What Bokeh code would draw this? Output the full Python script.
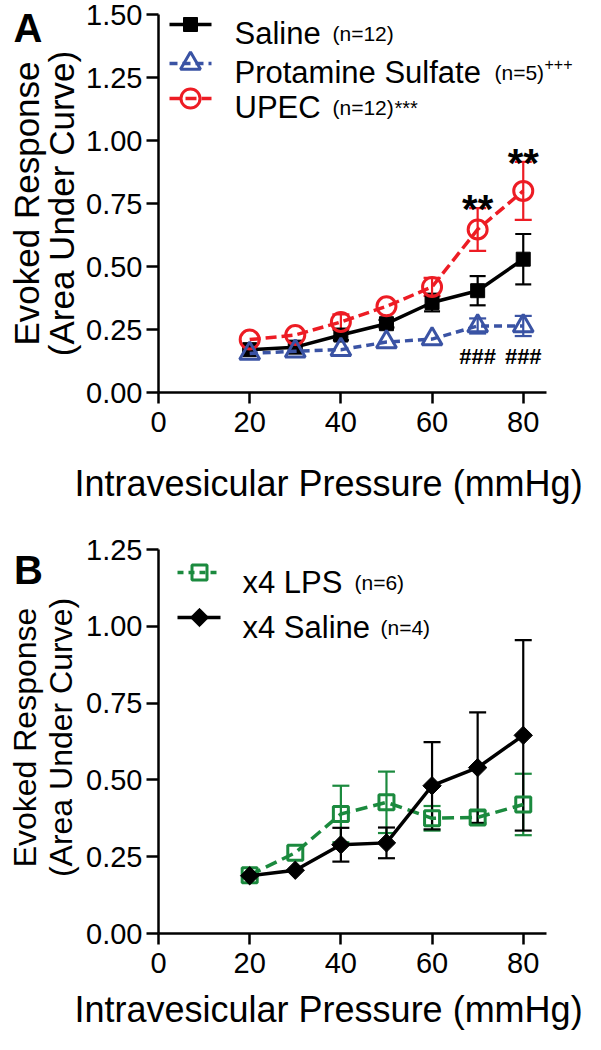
import math
from bokeh.plotting import figure
from bokeh.models import (Range1d, FixedTicker, Label, Whisker, TeeHead,
                          ColumnDataSource, NumeralTickFormatter)
from bokeh.layouts import column
from bokeh.embed import file_html
from bokeh.resources import INLINE
from bokeh.core.properties import value

# ---------------- data ----------------
pressure = [20, 30, 40, 50, 60, 70, 80]

a_saline = [0.170, 0.180, 0.228, 0.273, 0.357, 0.404, 0.529]
a_saline_sem = [0.0, 0.0, 0.020, 0.015, 0.035, 0.058, 0.100]
a_protamine = [0.155, 0.164, 0.170, 0.200, 0.212, 0.264, 0.264]
a_protamine_sem = [0.0, 0.0, 0.0, 0.0, 0.0, 0.030, 0.040]
a_upec = [0.210, 0.228, 0.280, 0.342, 0.419, 0.647, 0.800]
a_upec_sem = [0.0, 0.0, 0.030, 0.0, 0.036, 0.085, 0.115]

b_lps = [0.190, 0.263, 0.389, 0.427, 0.375, 0.378, 0.420]
b_lps_sem = [0.0, 0.0, 0.092, 0.100, 0.040, 0.020, 0.100]
b_saline = [0.188, 0.206, 0.289, 0.295, 0.481, 0.540, 0.645]
b_saline_sem = [0.0, 0.0, 0.055, 0.050, 0.142, 0.180, 0.310]

x_ticks = [0, 20, 40, 60, 80]
a_y_ticks = [0, 0.25, 0.5, 0.75, 1.0, 1.25, 1.5]
b_y_ticks = [0, 0.25, 0.5, 0.75, 1.0, 1.25]
x_axis_end = 85.1

star_x = [70, 80]   # ** UPEC vs saline
hash_x = [70, 80]   # ### protamine vs UPEC

# ---------------- styling / geometry (page pixels) ----------------
FONT = "Liberation Sans"
RED = "#ED1C24"
BLUE = "#3A53A4"
GREEN = "#1B8A3E"
BLACK = "#000000"

PAGE_L, PAGE_R = 8, 590          # canvas extent
X0_PX, XEND_PX = 166, 554        # x=0 and x=x_axis_end
XS = (XEND_PX - X0_PX) / x_axis_end


def make_fig(page_top, page_bot, y0_px, ytop_px, y_top, yticks):
    ys = (y0_px - ytop_px) / y_top
    p = figure(width=PAGE_R - PAGE_L, height=page_bot - page_top,
               output_backend="svg", toolbar_location=None,
               x_range=Range1d((PAGE_L - X0_PX) / XS, (PAGE_R - X0_PX) / XS),
               y_range=Range1d(-(page_bot - y0_px) / ys, (y0_px - page_top) / ys),
               min_border=0)
    p.outline_line_color = None
    p.grid.visible = False
    for ax in (p.xaxis[0], p.yaxis[0]):
        ax.fixed_location = 0
        ax.axis_line_width = 2.5
        ax.axis_line_color = BLACK
        ax.major_tick_line_width = 2.5
        ax.major_tick_line_color = BLACK
        ax.major_tick_in = 0
        ax.minor_tick_line_color = None
        ax.major_label_text_font = FONT
        ax.major_label_text_font_size = "29px"
        ax.major_label_text_color = BLACK
    p.xaxis.bounds = (0, x_axis_end)
    p.yaxis.bounds = (0, y_top)
    p.xaxis.ticker = FixedTicker(ticks=x_ticks)
    p.yaxis.ticker = FixedTicker(ticks=yticks)
    p.yaxis.formatter = NumeralTickFormatter(format="0.00")
    p.xaxis.major_tick_out = 11
    p.yaxis.major_tick_out = 12
    p.xaxis.major_label_standoff = 8
    p.yaxis.major_label_standoff = 4

    def gx(px):
        return (px - X0_PX) / XS

    def gy(py):
        return (y0_px - py) / ys
    return p, gx, gy


def add_errors(p, y, err, color, head=17):
    xs = [x for x, e in zip(pressure, err) if e > 0]
    up = [v + e for v, e in zip(y, err) if e > 0]
    lo = [v - e for v, e in zip(y, err) if e > 0]
    src = ColumnDataSource(dict(x=xs, upper=up, lower=lo))
    w = Whisker(source=src, base="x", upper="upper", lower="lower",
                line_color=color, line_width=2.2,
                upper_head=TeeHead(size=head, line_color=color, line_width=2.2),
                lower_head=TeeHead(size=head, line_color=color, line_width=2.2))
    p.add_layout(w)


def lab(p, x, y, text, size, **kw):
    p.add_layout(Label(x=x, y=y, text=text, text_font=FONT,
                       text_font_size=size, text_color=kw.pop("color", BLACK),
                       text_baseline=kw.pop("baseline", "alphabetic"),
                       text_align=kw.pop("align", "left"), **kw))


# ================= Panel A =================
pA, ax_, ay = make_fig(8, 528, 400, 22, 1.5, a_y_ticks)

pA.line(pressure, a_saline, line_color=BLACK, line_width=3.5)
add_errors(pA, a_saline, a_saline_sem, BLACK, 16)
pA.scatter(pressure, a_saline, marker="square", size=14,
           fill_color=BLACK, line_color=BLACK)

pA.line(pressure, a_upec, line_color=RED, line_width=3.5, line_dash="11 5")
add_errors(pA, a_upec, a_upec_sem, RED, 17)
pA.scatter(pressure, a_upec, marker="circle", size=19,
           fill_color=None, line_color=RED, line_width=3)

pA.line(pressure, a_protamine, line_color=BLUE, line_width=3.5, line_dash="8 5")
add_errors(pA, a_protamine, a_protamine_sem, BLUE, 17)
pA.scatter(pressure, a_protamine, marker="triangle", size=20,
           fill_color=None, line_color=BLUE, line_width=3)

# significance marks
star_y = [a_upec[pressure.index(x)] + a_upec_sem[pressure.index(x)] - 0.005 for x in star_x]
pA.text(x=star_x, y=star_y, text=["**"] * len(star_x), text_font=value(FONT),
        text_font_size="40px", text_font_style="bold", text_align="center",
        text_baseline="alphabetic", text_color=BLACK)
hash_y = [a_protamine[pressure.index(x)] - 0.121 for x in hash_x]
pA.text(x=hash_x, y=hash_y, text=["###"] * len(hash_x), text_font=value(FONT),
        text_font_size="22px", text_font_style="bold", text_align="center",
        text_baseline="alphabetic", text_color=BLACK)

# legend A
leg_rows = [
    ("Saline", "(n=12)", "", 32, BLACK, None, "square", BLACK),
    ("Protamine Sulfate", "(n=5)", "+++", 71, BLUE, "8 5", "triangle", None),
    ("UPEC", "(n=12)", "***", 106, RED, "11 5", "circle", None),
]
n_x = {"Saline": 340, "Protamine Sulfate": 502, "UPEC": 340}
sup_x = {"Protamine Sulfate": 552, "UPEC": 402}
for name, n, sup, cy, col, dash, mk, fill in leg_rows:
    kw = dict(line_color=col, line_width=3.5)
    if dash:
        kw["line_dash"] = dash
    pA.line([ax_(177), ax_(219)], [ay(cy), ay(cy)], **kw)
    size = {"square": 14, "triangle": 20, "circle": 19}[mk]
    pA.scatter([ax_(198)], [ay(cy)], marker=mk, size=size, fill_color=fill,
               line_color=col, line_width=3 if fill is None else 1)
    base = cy + 9
    lab(pA, ax_(242), ay(base), name, "31px")
    lab(pA, ax_(n_x[name]), ay(base), n, "21px")
    if sup == "+++":
        lab(pA, ax_(sup_x[name]), ay(base - 8.5), sup, "16px")
    elif sup:
        lab(pA, ax_(sup_x[name]), ay(base), sup, "20px")

# titles A
lab(pA, ax_(82), ay(491), "Intravesicular Pressure (mmHg)", "36px")
lab(pA, ax_(34), ay(211), "Evoked Response", "35px", align="center", angle=math.pi / 2)
lab(pA, ax_(69), ay(211), "(Area Under Curve)", "35px", align="center", angle=math.pi / 2)
lab(pA, ax_(35.5), ay(35), "A", "40px", align="center", text_font_style="bold")

# ================= Panel B =================
pB, bx, by = make_fig(528, 1040, 941, 557, 1.25, b_y_ticks)

pB.line(pressure, b_lps, line_color=GREEN, line_width=3.5, line_dash="12 6")
add_errors(pB, b_lps, b_lps_sem, GREEN, 17)
pB.scatter(pressure, b_lps, marker="square", size=15,
           fill_color=None, line_color=GREEN, line_width=3)

pB.line(pressure, b_saline, line_color=BLACK, line_width=3.5)
add_errors(pB, b_saline, b_saline_sem, BLACK, 17)
pB.scatter(pressure, b_saline, marker="square", angle=math.pi / 4, size=13,
           fill_color=BLACK, line_color=BLACK)

# legend B
pB.line([bx(185), bx(228)], [by(580), by(580)], line_color=GREEN,
        line_width=3.5, line_dash="6 5")
pB.scatter([bx(207)], [by(580)], marker="square", size=15, fill_color=None,
           line_color=GREEN, line_width=3)
pB.line([bx(185), bx(228)], [by(625), by(625)], line_color=BLACK, line_width=3.5)
pB.scatter([bx(207)], [by(625)], marker="square", angle=math.pi / 4, size=13,
           fill_color=BLACK, line_color=BLACK)
lab(pB, bx(250), by(590), "x4 LPS", "31px")
lab(pB, bx(362), by(590), "(n=6)", "21px")
lab(pB, bx(250), by(635), "x4 Saline", "31px")
lab(pB, bx(388), by(635), "(n=4)", "21px")

# titles B
lab(pB, bx(82), by(1017), "Intravesicular Pressure (mmHg)", "36px")
lab(pB, bx(32), by(745), "Evoked Response", "32px", align="center", angle=math.pi / 2)
lab(pB, bx(68), by(745), "(Area Under Curve)", "32px", align="center", angle=math.pi / 2)
lab(pB, bx(36), by(577), "B", "40px", align="center", text_font_style="bold")

layout = column(pA, pB, spacing=0)
open("out.html", "w").write(file_html(layout, INLINE))
